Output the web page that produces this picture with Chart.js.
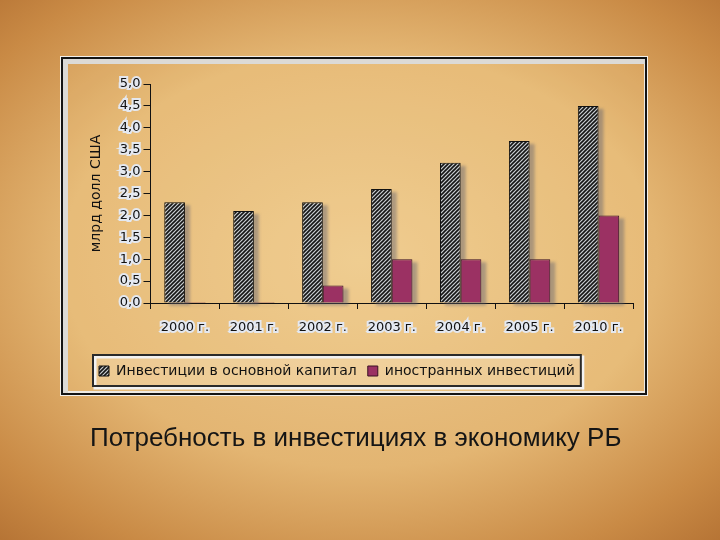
<!DOCTYPE html>
<html>
<head>
<meta charset="utf-8">
<script src="https://cdn.jsdelivr.net/npm/chart.js@4"></script>
<style>
  html, body { margin: 0; padding: 0; }
  body {
    width: 720px; height: 540px; position: relative; overflow: hidden;
    background: radial-gradient(ellipse 75% 70% at 50% 48%, #edc98e 0%, #e3b572 55%, #c98a45 85%, #b67435 100%);
    font-family: "Liberation Sans", Arial, sans-serif;
  }
  #frame {
    position: absolute; left: 61px; top: 57px; width: 586px; height: 338px;
    box-sizing: border-box;
    border: 2px solid #141414;
    box-shadow: 0 0 0 1px #f4f0ea, inset 5px 5px 0 #dcdad6, inset -1px -2px 0 #eeeae4;
    background: rgba(255, 225, 160, 0.15);
  }
  #wrap { position: absolute; left: 0; top: 0; width: 720px; height: 540px; }
  #caption {
    position: absolute; left: 90px; top: 422px;
    font-size: 26px; color: #151515; white-space: nowrap;
  }
</style>
</head>
<body>
<div id="frame"></div>
<div id="wrap"><canvas id="myChart" width="720" height="540"></canvas></div>
<div id="caption">Потребность в инвестициях в экономику РБ</div>
<script>
const years = ['2000 г.', '2001 г.', '2002 г.', '2003 г.', '2004 г.', '2005 г.', '2010 г.'];
const capitalInvest = [2.3, 2.1, 2.3, 2.6, 3.2, 3.7, 4.5];
const foreignInvest = [0.02, 0.02, 0.4, 1.0, 1.0, 1.0, 2.0];
const yTicks = [0, 0.5, 1, 1.5, 2, 2.5, 3, 3.5, 4, 4.5, 5];

document.addEventListener("DOMContentLoaded", function() {
    const ctx = document.getElementById('myChart').getContext('2d');

    // diagonal hatch like the old Excel fill
    const tile = document.createElement('canvas');
    tile.width = 4; tile.height = 4;
    const t = tile.getContext('2d');
    t.fillStyle = '#c9ced2';
    t.fillRect(0, 0, 4, 4);
    t.strokeStyle = '#151515';
    t.lineWidth = 1.6;
    t.beginPath();
    t.moveTo(-1, 5); t.lineTo(5, -1);
    t.moveTo(-1, 1); t.lineTo(1, -1);
    t.moveTo(3, 5); t.lineTo(5, 3);
    t.stroke();
    const hatch = ctx.createPattern(tile, 'repeat');

    // soft grey drop shadow behind every bar, taken from the bar elements
    const barShadow = {
        id: 'barShadow',
        beforeDatasetsDraw(chart) {
            const c = chart.ctx;
            c.save();
            c.fillStyle = 'rgba(95, 95, 110, 0.45)';
            c.filter = 'blur(1.5px)';
            chart.data.datasets.forEach((ds, i) => {
                chart.getDatasetMeta(i).data.forEach(bar => {
                    const w = bar.width;
                    const top = Math.min(bar.y, bar.base);
                    const h = Math.abs(bar.base - bar.y);
                    c.fillRect(bar.x - w / 2 + 5, top + 3, w, h);
                });
            });
            c.restore();
        }
    };

    const legendFrame = {
        id: 'legendFrame',
        beforeDraw(chart) {
            const boxes = chart.legend.legendHitBoxes;
            if (!boxes || !boxes.length) return;
            const left = Math.min(...boxes.map(b => b.left)) - 6;
            const right = Math.max(...boxes.map(b => b.left + b.width)) + 6;
            const top = Math.min(...boxes.map(b => b.top)) - 9;
            const bottom = Math.max(...boxes.map(b => b.top + b.height)) + 8;
            const c = chart.ctx;
            c.save();
            c.fillStyle = 'rgba(255, 245, 225, 0.25)';
            c.fillRect(left, top, right - left, bottom - top);
            c.strokeStyle = '#f2f2f2';
            c.lineWidth = 3;
            c.strokeRect(left + 2, top + 2, right - left, bottom - top);
            c.strokeStyle = '#2a2a2a';
            c.lineWidth = 2;
            c.strokeRect(left, top, right - left, bottom - top);
            c.restore();
        }
    };

    new Chart(ctx, {
        type: 'bar',
        data: {
            labels: years,
            datasets: [{
                label: 'Инвестиции в основной капитал',
                data: capitalInvest,
                backgroundColor: hatch,
                borderColor: '#111111',
                borderWidth: 1
            }, {
                label: 'иностранных инвестиций',
                data: foreignInvest,
                backgroundColor: '#9b3163',
                borderColor: '#3a1024',
                borderWidth: 1
            }]
        },
        options: {
            responsive: false,
            animation: false,
            events: [],
            datasets: {
                bar: { categoryPercentage: 0.6, barPercentage: 1.0 }
            },
            layout: {
                padding: { left: 88, right: 87, top: 84, bottom: 152 }
            },
            plugins: {
                tooltip: { enabled: false },
                legend: {
                    position: 'bottom',
                    align: 'start',
                    labels: {
                        color: '#111111',
                        font: { family: 'DejaVu Sans', size: 14 },
                        boxWidth: 10,
                        boxHeight: 10,
                        padding: 11
                    }
                }
            },
            scales: {
                x: {
                    grid: {
                        offset: true,
                        drawOnChartArea: false,
                        color: '#111111',
                        tickLength: 6
                    },
                    border: { color: '#111111', width: 1 },
                    ticks: {
                        color: '#111111',
                        font: { family: 'DejaVu Sans', size: 13 },
                        padding: 11,
                        textStrokeColor: 'rgba(228, 234, 246, 0.95)',
                        textStrokeWidth: 4
                    },
                    afterFit(scale) { scale.height = 50; }
                },
                y: {
                    min: 0,
                    max: 5,
                    afterBuildTicks(scale) {
                        scale.ticks = yTicks.map(v => ({ value: v }));
                    },
                    grid: {
                        drawOnChartArea: false,
                        color: '#111111',
                        tickLength: 7
                    },
                    border: { color: '#111111', width: 1 },
                    ticks: {
                        color: '#111111',
                        font: { family: 'DejaVu Sans', size: 13 },
                        padding: 3,
                        textStrokeColor: 'rgba(228, 234, 246, 0.95)',
                        textStrokeWidth: 4,
                        callback: v => v.toFixed(1).replace('.', ',')
                    },
                    title: {
                        display: true,
                        text: 'млрд долл США',
                        color: '#111111',
                        font: { family: 'DejaVu Sans', size: 14 },
                        padding: { top: 0, bottom: 12 }
                    }
                }
            }
        },
        plugins: [legendFrame, barShadow]
    });
});
</script>
</body>
</html>
